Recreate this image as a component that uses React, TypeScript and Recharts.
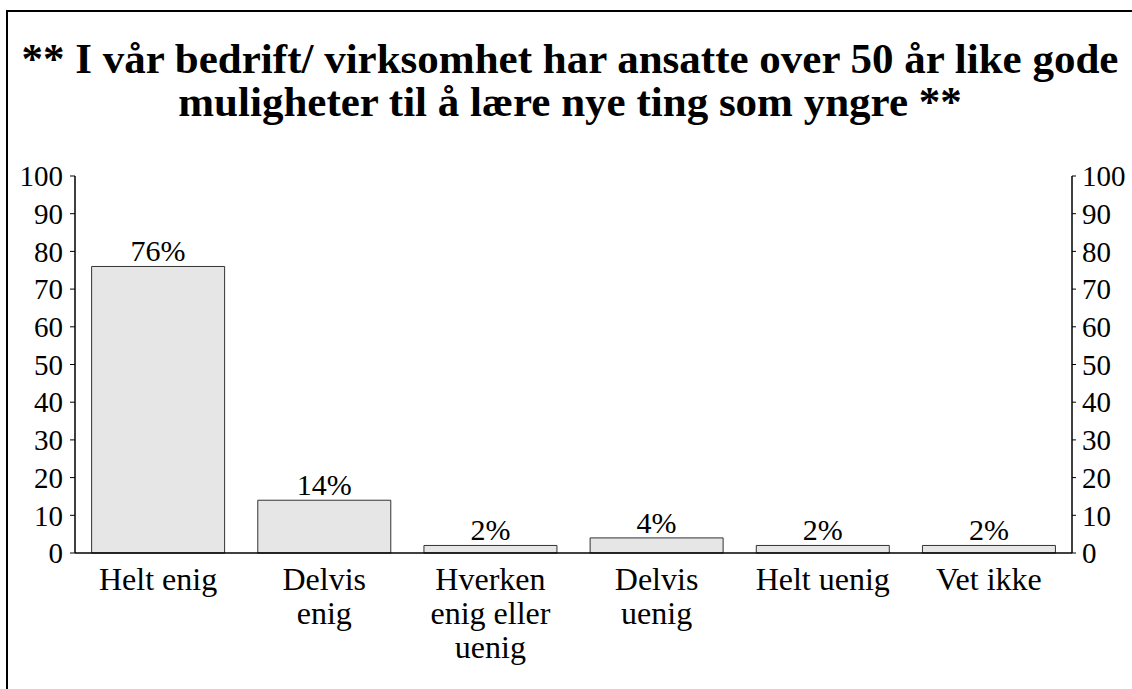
import React from "react";
import { BarChart, Bar, Line, XAxis, YAxis, LabelList } from "recharts";

const categories = [
  "Helt enig",
  "Delvis\nenig",
  "Hverken\nenig eller\nuenig",
  "Delvis\nuenig",
  "Helt uenig",
  "Vet ikke",
];
const shares = [76, 14, 2, 4, 2, 2];
const yTicks = [0, 10, 20, 30, 40, 50, 60, 70, 80, 90, 100];

const FONT = "Liberation Serif";

const data = categories.map((name, i) => ({ name, value: shares[i] }));

function CategoryTick({ x, y, payload }: { x?: number; y?: number; payload?: { value: string } }) {
  const lines = (payload?.value ?? "").split("\n");
  return (
    <text
      x={x}
      y={(y ?? 0) + 37}
      textAnchor="middle"
      fontFamily={FONT}
      fontSize={32}
      fill="#000"
    >
      {lines.map((l, i) => (
        <tspan key={i} x={x} dy={i === 0 ? 0 : 34}>
          {l}
        </tspan>
      ))}
    </text>
  );
}

export default function App() {
  return (
    <div
      style={{
        position: "absolute",
        left: 0,
        top: 0,
        width: 1132,
        height: 689,
        overflow: "hidden",
        background: "#fff",
      }}
    >
      {/* frame: only left and top edges show in the picture */}
      <div
        style={{
          position: "absolute",
          left: 6,
          top: 10,
          width: 2000,
          height: 2000,
          borderLeft: "2px solid #000",
          borderTop: "2px solid #000",
        }}
      />
      <svg
        width={1132}
        height={140}
        style={{ position: "absolute", left: 0, top: 0 }}
      >
        <text
          x={570}
          y={73}
          textAnchor="middle"
          fontFamily={FONT}
          fontWeight={700}
          fontSize={43}
          fill="#000"
        >
          ** I vår bedrift/ virksomhet har ansatte over 50 år like gode
        </text>
        <text
          x={570}
          y={116}
          textAnchor="middle"
          fontFamily={FONT}
          fontWeight={700}
          fontSize={43}
          fill="#000"
        >
          muligheter til å lære nye ting som yngre **
        </text>
      </svg>
      <div style={{ position: "absolute", left: 0, top: 0 }}>
        <BarChart
          width={1132}
          height={689}
          data={data}
          margin={{ top: 176, right: 0, bottom: 106, left: 0 }}
          barCategoryGap="10%"
        >
          <XAxis
            dataKey="name"
            height={30}
            interval={0}
            tickLine={false}
            tickSize={0}
            tickMargin={0}
            axisLine={{ stroke: "#000", strokeWidth: 1.5 }}
            tick={<CategoryTick />}
          />
          <YAxis
            yAxisId="left"
            orientation="left"
            width={75}
            domain={[0, 100]}
            ticks={yTicks}
            interval={0}
            tickSize={5}
            tickMargin={7}
            axisLine={{ stroke: "#000", strokeWidth: 1.5 }}
            tickLine={{ stroke: "#000" }}
            tick={{ fontFamily: FONT, fontSize: 29, fill: "#000" }}
          />
          <YAxis
            yAxisId="right"
            orientation="right"
            width={60}
            domain={[0, 100]}
            ticks={yTicks}
            interval={0}
            tickSize={4}
            tickMargin={6}
            axisLine={{ stroke: "#000", strokeWidth: 1.5 }}
            tickLine={{ stroke: "#000" }}
            tick={{ fontFamily: FONT, fontSize: 29, fill: "#000" }}
          />
          <Bar
            yAxisId="left"
            dataKey="value"
            fill="#e6e6e6"
            stroke="#333"
            strokeWidth={1}
            isAnimationActive={false}
          >
            <LabelList
              dataKey="value"
              position="top"
              offset={5}
              formatter={(v: number) => `${v}%`}
              style={{ fontFamily: FONT, fontSize: 30, fill: "#000" }}
            />
          </Bar>
          {/* invisible series so the right axis gets its ticks */}
          <Line
            yAxisId="right"
            dataKey="value"
            stroke="none"
            dot={false}
            activeDot={false}
            legendType="none"
            isAnimationActive={false}
          />
        </BarChart>
      </div>
    </div>
  );
}
